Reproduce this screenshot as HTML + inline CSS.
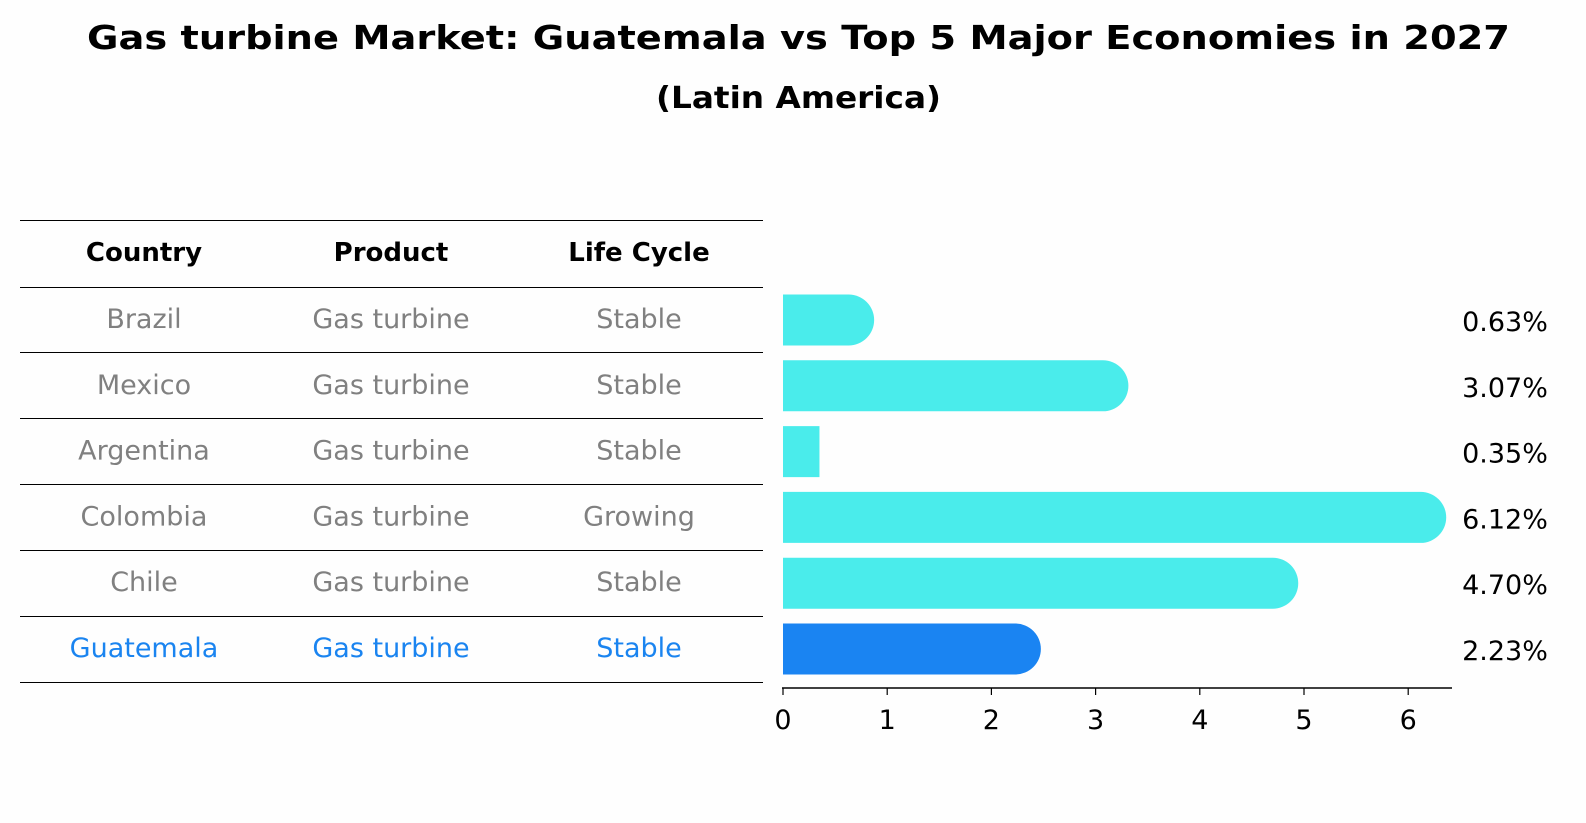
<!DOCTYPE html>
<html><head><meta charset="utf-8"><style>
html,body{margin:0;padding:0;overflow:hidden;width:1586px;height:823px;background:#fefefe;}
svg{display:block;font-family:"DejaVu Sans","Liberation Sans",sans-serif;}
</style></head><body>
<svg width="1586" height="823" viewBox="0 0 1586 823">
<rect width="1586" height="823" fill="#fefefe"/>
<text x="87" y="49" font-size="33" font-weight="bold" textLength="1423" lengthAdjust="spacingAndGlyphs">Gas turbine Market: Guatemala vs Top 5 Major Economies in 2027</text>
<text x="656" y="108" font-size="30" font-weight="bold" textLength="285" lengthAdjust="spacingAndGlyphs">(Latin America)</text>
<g id="table"></g>
<g id="bars"></g>
</svg>
<script>
const countries=["Brazil","Mexico","Argentina","Colombia","Chile","Guatemala"];
const products=["Gas turbine","Gas turbine","Gas turbine","Gas turbine","Gas turbine","Gas turbine"];
const lifeCycles=["Stable","Stable","Stable","Growing","Stable","Stable"];
const values=[0.63,3.07,0.35,6.12,4.70,2.23];
const valueLabels=["0.63%","3.07%","0.35%","6.12%","4.70%","2.23%"];
const ticks=[0,1,2,3,4,5,6];
const NS="http://www.w3.org/2000/svg";
function mk(t,a,p){const e=document.createElementNS(NS,t);for(const k in a)e.setAttribute(k,a[k]);p.appendChild(e);return e;}
const tbl=document.getElementById('table'),bars=document.getElementById('bars');
const x=v=>783+v*104.2;
const rowY=i=>320+i*65.8;
const lineY=[220,287,352,418,484,550,616,682];
lineY.forEach(y=>{const l=mk('line',{x1:20,x2:763,y1:y+0.5,y2:y+0.5,stroke:'#000','stroke-width':1},tbl);

});
const colX=[144,391,639];
["Country","Product","Life Cycle"].forEach((h,j)=>{const t=mk('text',{x:colX[j],y:261,'text-anchor':'middle','font-size':26,'font-weight':'bold'},tbl);t.textContent=h;

});
countries.forEach((c,i)=>{
 const col=i===countries.length-1?'#1a84f0':'#808080';
 [c,products[i],lifeCycles[i]].forEach((s,j)=>{const t=mk('text',{x:colX[j],y:rowY(i)+8,'text-anchor':'middle','font-size':27,fill:col},tbl);t.textContent=s;
 
 });
 const h=51,r=25.5,y0=rowY(i)-h/2,w=x(values[i])-x(0);
 const fill=i===countries.length-1?'#1a84f2':'#4aeceb';
 let d='M'+x(0)+','+y0+' h'+w+(w>2*r?' a'+r+','+r+' 0 0 1 0,'+h:' v'+h)+' H'+x(0)+' Z';
 const b=mk('path',{d:d,fill:fill},bars);
 
 
 const t=mk('text',{x:1505,y:rowY(i)+11,'text-anchor':'middle','font-size':27},bars);t.textContent=valueLabels[i];
 
 
});
const ax=mk('line',{x1:782,x2:1452,y1:688,y2:688,stroke:'#000','stroke-width':1.5},bars);


ticks.forEach(v=>{const l=mk('line',{x1:x(v),x2:x(v),y1:688,y2:695,stroke:'#000','stroke-width':1.2},bars);


const t=mk('text',{x:x(v),y:729,'text-anchor':'middle','font-size':27},bars);t.textContent=v;

});
</script>
</body></html>
